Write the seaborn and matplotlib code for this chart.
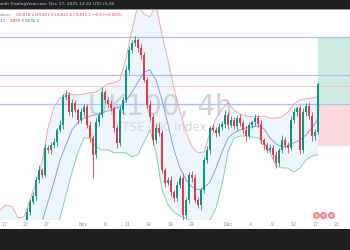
import matplotlib
matplotlib.use("Agg")
import matplotlib.pyplot as plt
import seaborn as sns
import pandas as pd
from matplotlib.patches import Rectangle

sns.set_theme(style="white")
plt.rcParams['font.family'] = ['DejaVu Sans']

# ---------------- data (UK100, 4h candles) ----------------
first_open = 9428
closes = [
    9425, 9430, 9420, 9435, 9425, 9438, 9430, 9445, 9460, 9495,
    9520, 9535, 9575, 9600, 9588, 9655, 9650, 9663, 9670, 9700,
    9713, 9783, 9788, 9745, 9768, 9750, 9725, 9745, 9758, 9713,
    9680, 9638, 9720, 9738, 9795, 9775, 9765, 9755, 9705, 9668,
    9750, 9775, 9850, 9900, 9918, 9925, 9905, 9888, 9825, 9763,
    9733, 9675, 9705, 9693, 9600, 9568, 9575, 9545, 9530, 9563,
    9580, 9488, 9525, 9588, 9580, 9525, 9513, 9550, 9625, 9650,
    9705, 9700, 9693, 9708, 9715, 9738, 9713, 9725, 9710, 9730,
    9718, 9700, 9685, 9713, 9720, 9730, 9715, 9675, 9663, 9650,
    9655, 9638, 9618, 9650, 9675, 9663, 9655, 9725, 9745, 9755,
    9650, 9745, 9760, 9735, 9685, 9695, 9815,
]
up_wick = [
    6, 8, 5, 7, 9, 6, 5, 8, 6, 10,
    7, 9, 8, 12, 6, 10, 8, 7, 9, 6,
    11, 8, 12, 6, 9, 7, 5, 10, 8, 6,
    9, 7, 10, 8, 12, 6, 7, 9, 5, 8,
    10, 7, 12, 9, 8, 10, 6, 9, 7, 8,
    11, 6, 9, 12, 7, 5, 8, 10, 6, 9,
    7, 12, 8, 6, 10, 9, 7, 5, 8, 11,
    6, 9, 8, 10, 7, 12, 6, 9, 8, 7,
    10, 6, 9, 8, 5, 11, 7, 9, 6, 8,
    10, 7, 9, 6, 12, 8, 7, 10, 9, 6,
    8, 11, 7, 9, 10, 8, 6,
]
dn_wick = [
    7, 5, 9, 6, 8, 10, 6, 7, 9, 5,
    8, 6, 10, 7, 9, 6, 8, 11, 7, 9,
    6, 10, 8, 7, 12, 6, 9, 8, 10, 7,
    9, 58, 7, 10, 6, 8, 11, 7, 9, 12,
    7, 9, 6, 10, 8, 7, 9, 11, 6, 8,
    10, 12, 7, 9, 8, 10, 6, 9, 11, 7,
    8, 13, 9, 7, 10, 6, 9, 12, 8, 7,
    9, 6, 10, 8, 7, 9, 11, 6, 8, 10,
    7, 9, 12, 6, 8, 10, 7, 9, 11, 8,
    6, 10, 14, 8, 7, 9, 12, 6, 8, 10,
    9, 7, 10, 8, 12, 9, 6,
]

# Bollinger bands sampled every 2 bars
band_x = list(range(0, 107, 2))
bb_upper = [
    9500, 9513, 9508, 9480, 9483, 9525, 9570, 9618, 9705, 9758,
    9780, 9793, 9788, 9788, 9790, 9793, 9795, 9805, 9815, 9818,
    9825, 9880, 9950, 10013, 9990, 9983, 10013, 9938, 9875, 9805,
    9745, 9695, 9658, 9643, 9645, 9693, 9728, 9753, 9768, 9750,
    9740, 9735, 9733, 9733, 9735, 9730, 9730, 9733, 9745, 9765,
    9775, 9778, 9780, 9783,
]
bb_mid = [
    9435, 9440, 9440, 9433, 9435, 9438, 9445, 9470, 9520, 9570,
    9625, 9663, 9700, 9720, 9730, 9735, 9738, 9743, 9748, 9753,
    9758, 9773, 9795, 9820, 9845, 9850, 9825, 9775, 9713, 9650,
    9605, 9575, 9558, 9550, 9555, 9570, 9605, 9645, 9680, 9693,
    9700, 9705, 9708, 9710, 9703, 9680, 9665, 9658, 9660, 9668,
    9675, 9688, 9705, 9728,
]
bb_lower = [
    9370, 9370, 9370, 9380, 9385, 9350, 9313, 9300, 9338, 9425,
    9480, 9538, 9595, 9645, 9680, 9680, 9658, 9650, 9650, 9643,
    9643, 9643, 9633, 9638, 9670, 9700, 9645, 9550, 9513, 9495,
    9485, 9478, 9473, 9473, 9473, 9475, 9505, 9563, 9645, 9680,
    9685, 9685, 9683, 9680, 9670, 9643, 9610, 9605, 9605, 9595,
    9605, 9625, 9635, 9638,
]

# horizontal levels and long-position tool
blue_levels = [9933, 9838, 9765]
last_price = 9810
pos_entry, pos_target, pos_stop = 9765, 9933, 9660
pos_start = 106

# event markers
event_x = [105.3, 107.7, 110.2]

tick_pos = [1.33, 8.67, 15.67, 27.67, 35, 42.33, 49.33, 56.67, 64, 76,
            83.33, 90.67, 97.67, 105, 112.33]
tick_labels = ["17", "22", "27", "Nov", "6", "11", "14", "19", "24", "Dec",
               "4", "9", "12", "17", "22"]

# ---------------- build ----------------
opens = [first_open] + closes[:-1]
df = pd.DataFrame({"i": range(len(closes)), "open": opens, "close": closes})
df["high"] = df[["open", "close"]].max(axis=1) + up_wick
df["low"] = df[["open", "close"]].min(axis=1) - dn_wick
df["up"] = df["close"] >= df["open"]
UP, DN = "#089981", "#f23645"
df["color"] = df["up"].map({True: UP, False: DN})

bands = pd.DataFrame({"x": band_x, "upper": bb_upper, "mid": bb_mid, "lower": bb_lower})

fig = plt.figure(figsize=(3.5, 2.5), dpi=100)
fig.patch.set_facecolor("white")
ax = fig.add_axes([0, 30 / 250, 1, 211 / 250])
ax.set_facecolor("white")
ax.set_xlim(0, 350 / 3)
ax.set_ylim(9475, 10002.5)

# BB fill and lines
ax.fill_between(bands["x"], bands["lower"], bands["upper"], color="#eef6fd", zorder=0.2, lw=0)
sns.lineplot(data=bands, x="x", y="upper", ax=ax, color="#f5a3ab", lw=0.7, zorder=1)
sns.lineplot(data=bands, x="x", y="mid", ax=ax, color="#7f9ff2", lw=0.7, zorder=1)
sns.lineplot(data=bands, x="x", y="lower", ax=ax, color="#7fcfb9", lw=0.7, zorder=1)

# position tool
ax.add_patch(Rectangle((pos_start, pos_entry), 20, pos_target - pos_entry,
                       facecolor="#cfe9e3", edgecolor="none", zorder=0.3))
ax.add_patch(Rectangle((pos_start, pos_stop), 20, pos_entry - pos_stop,
                       facecolor="#fbd8dc", edgecolor="none", zorder=0.3))

for lv in blue_levels:
    ax.axhline(lv, color="#a9bff5", lw=0.9, zorder=0.6)
ax.axhline(last_price, color="#f8c4c6", lw=0.6, zorder=0.6)

# watermark
ax.text(0.458, 0.574, "UK100, 4h", transform=fig.transFigure, ha="center", va="center",
        fontsize=20, color="#cfd2d8", zorder=0.5)
ax.text(0.46, 0.49, "FTSE 100 Index", transform=fig.transFigure, ha="center", va="center",
        fontsize=8.5, color="#d6d8dd", zorder=0.5)

# candles
ax.vlines(df["i"], df["low"], df["high"], colors=df["color"], lw=0.6, zorder=2)
body_h = (df["close"] - df["open"]).abs().clip(lower=1.5)
ax.bar(df["i"], body_h, bottom=df[["open", "close"]].min(axis=1), width=0.72,
       color=df["color"], linewidth=0, zorder=3)

# event markers
sns.scatterplot(x=event_x, y=[9487] * len(event_x), ax=ax, s=16, color="#f7b9bf",
                edgecolor="#f23645", linewidth=0.6, zorder=4, legend=False)

ax.set_xticks(tick_pos)
ax.set_xticklabels(tick_labels)
ax.tick_params(axis="x", length=0, labelsize=3.3, labelcolor="#8c8f99", pad=1.2)
ax.set_yticks([])
ax.set_xlabel("")
ax.set_ylabel("")
for s in ax.spines.values():
    s.set_visible(False)

# top and bottom dark bars
fig.patches.append(Rectangle((0, 1 - 9 / 250), 1, 9 / 250, transform=fig.transFigure,
                             facecolor="#1f1f1f", edgecolor="none", zorder=5))
fig.patches.append(Rectangle((0, 1 - 9.8 / 250), 1, 0.8 / 250, transform=fig.transFigure,
                             facecolor="#9a9a9a", edgecolor="none", zorder=5))
fig.patches.append(Rectangle((0, 0), 1, 21 / 250, transform=fig.transFigure,
                             facecolor="#1f1f1f", edgecolor="none", zorder=5))

fig.text(0.0, 1 - 4.5 / 250, "with TradingView.com, Dec 17, 2025 14:32 UTC+5:30",
         ha="left", va="center", fontsize=3.1, color="#c9c9c9", zorder=6)

# legend lines
fig.text(0.0, 1 - 14.5 / 250, "rdane", ha="left", va="center", fontsize=2.9, color="#8c8f99")
fig.text(16 / 350, 1 - 14.5 / 250, "O9,818.2 H9,821.3 L9,811.4 C9,812.1 \u22125.9 (\u22120.06%)",
         ha="left", va="center", fontsize=2.9, color="#f23645")
fig.text(0.0, 1 - 20.5 / 250, "2.1", ha="left", va="center", fontsize=2.9, color="#2962ff")
fig.text(10 / 350, 1 - 20.5 / 250, "9,889.9", ha="left", va="center", fontsize=2.9, color="#f23645")
fig.text(25 / 350, 1 - 20.5 / 250, "9,636.4", ha="left", va="center", fontsize=2.9, color="#089981")

fig.savefig("out.png", dpi=100)
